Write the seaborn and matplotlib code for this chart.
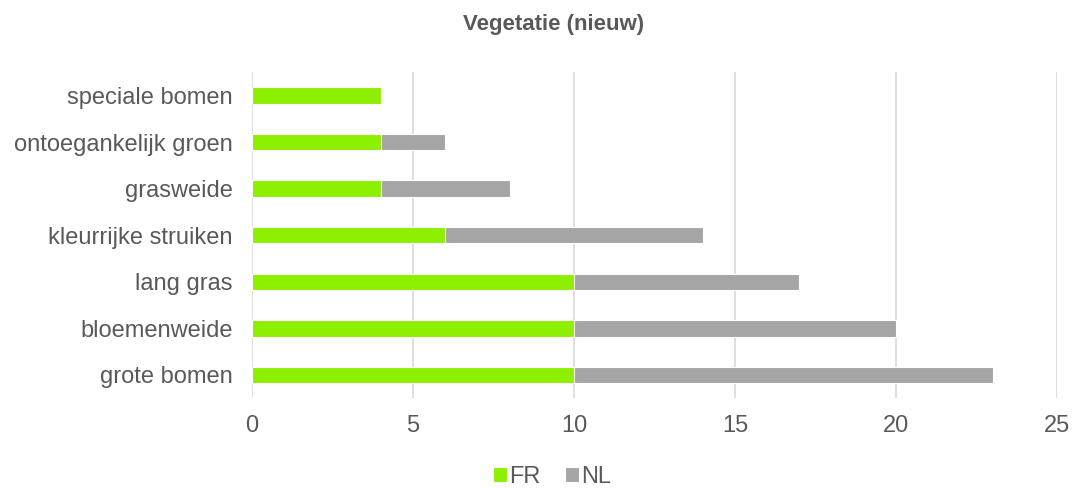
import matplotlib
matplotlib.use("Agg")
import matplotlib.pyplot as plt
import seaborn as sns
import pandas as pd

categories = ["speciale bomen", "ontoegankelijk groen", "grasweide", "kleurrijke struiken",
              "lang gras", "bloemenweide", "grote bomen"]
fr_values = [4, 4, 4, 6, 10, 10, 10]
nl_values = [0, 2, 4, 8, 7, 10, 13]
x_ticks = [0, 5, 10, 15, 20, 25]
title = "Vegetatie (nieuw)"

sns.set_theme(style="white")
plt.rcParams['font.family'] = ['Liberation Sans', 'DejaVu Sans']

df = pd.DataFrame({"cat": categories, "FR": fr_values, "NL": nl_values})
df["total"] = df["FR"] + df["NL"]

fig = plt.figure(figsize=(10.72, 4.88), dpi=100)
ax = fig.add_axes([0.235, 0.184, 0.751, 0.668])

text_col = "#595959"
sns.barplot(data=df, y="cat", x="total", color="#A5A5A5", orient="h", width=0.35,
            ax=ax, edgecolor="white", linewidth=0.8, label="NL", saturation=1)
sns.barplot(data=df, y="cat", x="FR", color="#8CF000", orient="h", width=0.35,
            ax=ax, edgecolor="white", linewidth=0.8, label="FR", saturation=1)

handles, labels = ax.get_legend_handles_labels()
if ax.get_legend() is not None:
    ax.get_legend().remove()

ax.set_xlim(0, 25)
ax.set_ylim(6.5, -0.5)
ax.set_xticks(x_ticks)
ax.set_xlabel("")
ax.set_ylabel("")
ax.grid(axis="x", color="#D9D9D9", linewidth=1.2)
ax.set_axisbelow(True)
for s in ax.spines.values():
    s.set_visible(False)
ax.tick_params(axis="both", length=0, labelsize=17, colors=text_col)
ax.tick_params(axis="y", pad=14)
ax.tick_params(axis="x", pad=12)

fig.text(0.516, 0.949, title, fontsize=16, fontweight="bold", color=text_col,
         ha="center", va="center")

order = [labels.index("FR"), labels.index("NL")]
fig.legend([handles[i] for i in order], [labels[i] for i in order],
           loc="center", bbox_to_anchor=(0.515, 0.022), ncol=2, frameon=False,
           fontsize=17, handlelength=0.6, handleheight=0.6, handletextpad=0.1,
           columnspacing=1.0, labelcolor=text_col, borderpad=0)

fig.savefig("out.png", dpi=100)
